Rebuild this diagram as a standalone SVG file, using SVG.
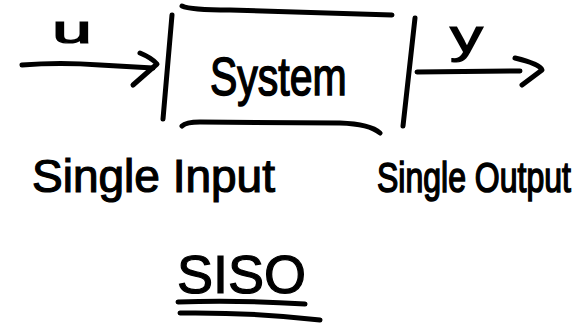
<svg xmlns="http://www.w3.org/2000/svg" width="583" height="325" viewBox="0 0 583 325">
<style>
.ln{fill:none;stroke:#000;stroke-width:5;stroke-linecap:round;stroke-linejoin:round}
.tx{font-family:"Liberation Sans",Arial,sans-serif;fill:#000;stroke:#000;stroke-width:1.2}
</style>
<rect width="583" height="325" fill="#fff"/>
<g id="input">
<text class="tx" x="52" y="43" font-size="38" stroke-width="0.6" textLength="40" lengthAdjust="spacingAndGlyphs">u</text>
</g>
<g id="system">
<path class="ln" d="M172,15 L163,119"/>
<path class="ln" d="M182,6 Q190,10 230,10 L392,15"/>
<path class="ln" d="M182,126 Q186,122 200,122 L340,123 Q370,124 380,133"/>
<path class="ln" d="M415,18 L403,126"/>
<text class="tx" transform="translate(210,95) scale(1,1.3)" font-size="41">System</text>
</g>
<g id="output">
<text class="tx" x="450" y="52" font-size="46" stroke-width="0.6" textLength="33" lengthAdjust="spacingAndGlyphs">y</text>
</g>
<g id="connectors">
<path class="ln" d="M22,65 Q60,62 100,65 L153,68"/>
<path class="ln" d="M140,53 Q152,58 157,64 L133,85"/>
<path class="ln" d="M417,72 L520,71"/>
<path class="ln" d="M515,58 Q540,64 542,70 L522,85"/>
</g>
<g id="single-input">
<text class="tx" x="32" y="192" font-size="46">Single Input</text>
</g>
<g id="single-output">
<text class="tx" transform="translate(377,192) scale(1,1.3)" font-size="32">Single Output</text>
</g>
<g id="siso">
<text class="tx" x="177" y="293" font-size="54">SISO</text>
<path class="ln" d="M178,302 Q240,300 305,304"/>
<path class="ln" d="M180,313 Q250,312 320,320"/>
</g>
</svg>
